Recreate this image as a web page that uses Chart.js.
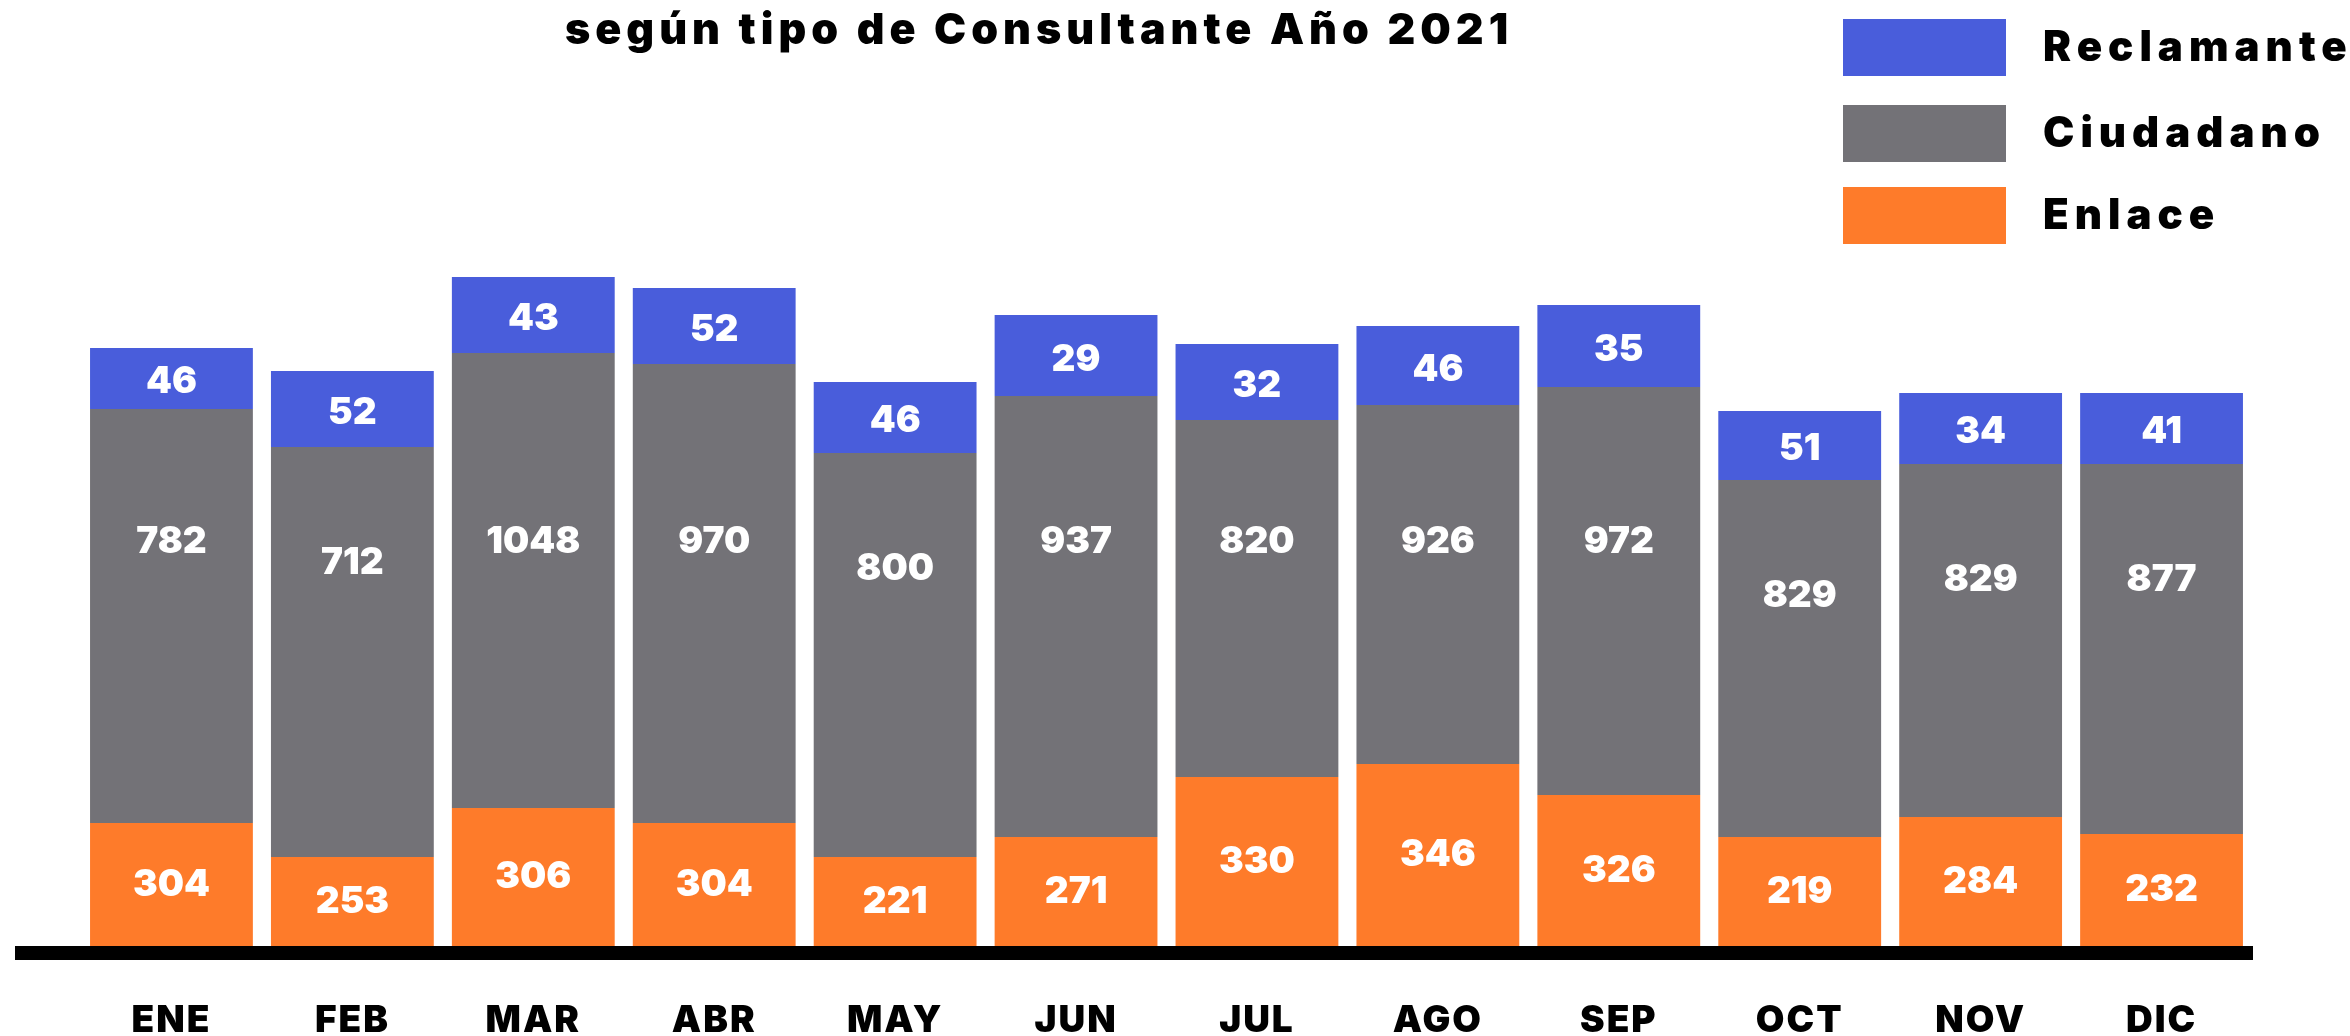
<!DOCTYPE html>
<html>
<head>
<meta charset="utf-8">
<script src="https://cdn.jsdelivr.net/npm/chart.js@4.4.1/dist/chart.umd.min.js"></script>
<style>
  html, body { margin: 0; padding: 0; background: #ffffff; }
  #wrap { width: 2350px; height: 1036px; position: relative; }
</style>
</head>
<body>
<div id="wrap"><canvas id="c" width="2350" height="1036"></canvas></div>
<script>
// ---- Data ----
const months = ['ENE', 'FEB', 'MAR', 'ABR', 'MAY', 'JUN', 'JUL', 'AGO', 'SEP', 'OCT', 'NOV', 'DIC'];

// Printed counts (labels on each segment)
const enlace     = [304, 253, 306, 304, 221, 271, 330, 346, 326, 219, 284, 232];
const ciudadano  = [782, 712, 1048, 970, 800, 937, 820, 926, 972, 829, 829, 877];
const reclamante = [46, 52, 43, 52, 46, 29, 32, 46, 35, 51, 34, 41];

// Segment heights as drawn in the reference (the infographic does not draw
// them proportional to the printed counts); measured in reference pixels
const enlaceDrawn     = [123, 89, 138, 123, 89, 109, 169, 182, 151, 109, 129, 112];
const ciudadanoDrawn  = [414, 410, 455, 459, 404, 441, 357, 359, 408, 357, 353, 370];
const reclamanteDrawn = [61, 76, 76, 76, 71, 81, 76, 79, 82, 69, 71, 71];

const titleText = 'según tipo de Consultante Año 2021';

const FONT = 'Inter, "Open Sans", "DejaVu Sans", sans-serif';

// ---- plugins ----
const letterSpacingTicks = {
  id: 'letterSpacingTicks',
  beforeDraw(chart) { chart.ctx.letterSpacing = '2px'; }
};

const segmentLabels = {
  id: 'segmentLabels',
  afterDatasetsDraw(chart) {
    const ctx = chart.ctx;
    const yScale = chart.scales.y;
    ctx.save();
    ctx.letterSpacing = '0px';
    ctx.fillStyle = '#ffffff';
    ctx.font = '900 37px ' + FONT;
    ctx.textAlign = 'center';
    ctx.textBaseline = 'middle';
    chart.data.datasets.forEach((ds, di) => {
      const meta = chart.getDatasetMeta(di);
      meta.data.forEach((el, i) => {
        const top = Math.min(el.y, el.base);
        const bot = Math.max(el.y, el.base);
        let y;
        if (ds.labelMode === 'line') {
          // common label line, pushed down when the segment starts low
          y = Math.max(yScale.getPixelForValue(404), top + 116);
        } else {
          y = top + (bot - top) * ds.labelAt;
        }
        ctx.fillText(String(ds.counts[i]), el.x, y);
      });
    });
    ctx.restore();
  }
};

const axisLine = {
  id: 'axisLine',
  afterDatasetsDraw(chart) {
    const ctx = chart.ctx, a = chart.chartArea;
    ctx.save();
    ctx.fillStyle = '#000000';
    ctx.fillRect(a.left - 66, a.bottom, a.right - a.left + 67, 14);
    ctx.restore();
  }
};

const titleAndLegend = {
  id: 'titleAndLegend',
  afterDraw(chart) {
    const ctx = chart.ctx;
    ctx.save();
    // title (visible line)
    ctx.fillStyle = '#000000';
    ctx.font = '900 43px ' + FONT;
    ctx.letterSpacing = '5px';
    ctx.textAlign = 'center';
    ctx.textBaseline = 'alphabetic';
    ctx.fillText(titleText, 1039, 44);

    // legend: top-down Reclamante, Ciudadano, Enlace
    const items = chart.data.datasets.slice().reverse();
    const boxX = 1843, boxW = 163, boxH = 57;
    const tops = [19, 105, 187];
    ctx.font = '900 42px ' + FONT;
    ctx.letterSpacing = '6px';
    ctx.textAlign = 'left';
    ctx.textBaseline = 'middle';
    items.forEach((ds, k) => {
      ctx.fillStyle = ds.backgroundColor;
      ctx.fillRect(boxX, tops[k], boxW, boxH);
      ctx.fillStyle = '#000000';
      ctx.fillText(ds.label, 2043, tops[k] + boxH / 2 + 1);
    });
    ctx.restore();
  }
};

new Chart(document.getElementById('c'), {
  type: 'bar',
  data: {
    labels: months,
    datasets: [
      { label: 'Enlace', data: enlaceDrawn, counts: enlace, labelAt: 0.5,
        backgroundColor: '#FE7B2A' },
      { label: 'Ciudadano', data: ciudadanoDrawn, counts: ciudadano, labelMode: 'line',
        backgroundColor: '#737277' },
      { label: 'Reclamante', data: reclamanteDrawn, counts: reclamante, labelAt: 0.55,
        backgroundColor: '#495DDB' }
    ]
  },
  options: {
    responsive: false,
    devicePixelRatio: 1,
    animation: false,
    layout: { padding: { left: 81, right: 98, top: 0, bottom: 0 }, autoPadding: false },
    datasets: { bar: { barPercentage: 0.9, categoryPercentage: 1.0, borderWidth: 0 } },
    plugins: {
      legend: { display: false },
      title: { display: false },
      tooltip: { enabled: false }
    },
    scales: {
      x: {
        stacked: true,
        grid: { display: false, drawTicks: false },
        border: { display: false },
        ticks: {
          color: '#000000',
          font: { family: FONT, size: 37, weight: '900' },
          padding: 53,
          maxRotation: 0,
          autoSkip: false
        },
        afterFit(scale) { scale.height = 90; }
      },
      y: {
        stacked: true,
        display: false,
        min: 0,
        max: 946
      }
    }
  },
  plugins: [letterSpacingTicks, segmentLabels, axisLine, titleAndLegend]
});
</script>
</body>
</html>
